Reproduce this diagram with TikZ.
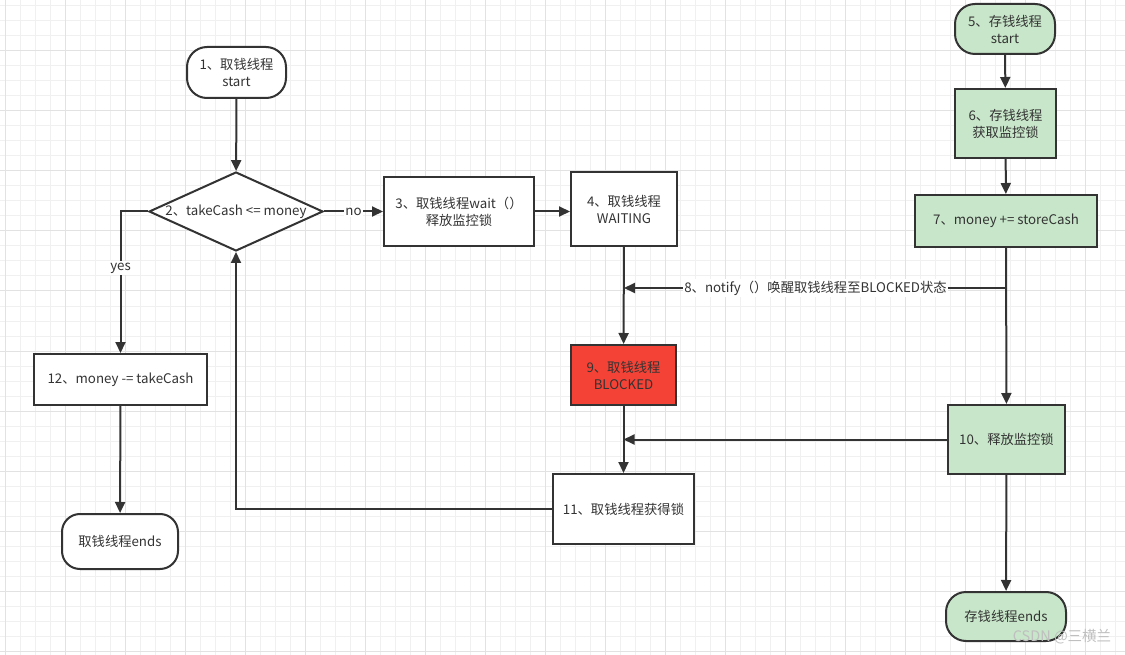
\documentclass[tikz,border=0pt]{standalone}
\usepackage{fontspec}
\setmainfont{Noto Sans CJK SC}
\usetikzlibrary{shapes.geometric,arrows.meta}

\definecolor{ink}{HTML}{333333}
\definecolor{leaf}{HTML}{C8E6C9}
\definecolor{alarm}{HTML}{F44336}
\definecolor{gridminor}{HTML}{F0F0F0}
\definecolor{gridmajor}{HTML}{E2E2E2}

\tikzset{
  box/.style={draw=ink,line width=2pt,text=ink,align=center,inner sep=0pt,
    font=\fontsize{13.3}{17}\selectfont},
  term/.style={box,rounded corners=20pt},
  lbl/.style={fill=white,text=ink,inner sep=1.5pt,font=\fontsize{13.3}{17}\selectfont},
  flow/.style={draw=ink,line width=2pt,-{Triangle[length=11pt,width=10pt]}},
}

\begin{document}
\begin{tikzpicture}[x=1pt,y=-1pt]

      \useasboundingbox[fill=white] (0,0) rectangle (1125,655);

      % background grid
      \foreach \x in {5,20,...,1125} \draw[gridminor,line width=1pt] (\x,0) -- (\x,655);
      \foreach \y in {6,21,...,655} \draw[gridminor,line width=1pt] (0,\y) -- (1125,\y);
      \foreach \x in {5,65,...,1125} \draw[gridmajor,line width=1pt] (\x,0) -- (\x,655);
      \foreach \y in {51,111,...,655} \draw[gridmajor,line width=1pt] (0,\y) -- (1125,\y);

      % take-cash thread
      \begin{scope}[every node/.style={box,fill=white}]
        \node[term,minimum width=99pt,minimum height=51pt] (1) at (236.5,72.5) {1、取钱线程\\start};
        \node[shape=diamond,minimum width=174pt,minimum height=79pt] (2) at (236,211.5) {};
        \node[minimum width=150pt,minimum height=69pt] (3) at (459,211.5) {3、取钱线程wait（）\\释放监控锁};
        \node[minimum width=106pt,minimum height=74pt] (4) at (624,209) {4、取钱线程\\WAITING};
        \node[minimum width=105pt,minimum height=60pt,fill=alarm] (9) at (623.5,375) {9、取钱线程\\BLOCKED};
        \node[minimum width=141pt,minimum height=70pt] (11) at (623.5,509) {11、取钱线程获得锁};
        \node[minimum width=173pt,minimum height=51pt] (12) at (120.5,379.5) {12、money -= takeCash};
        \node[term,rounded corners=18pt,minimum width=116pt,minimum height=55pt] (e1) at (120,541.5) {取钱线程ends};
      \end{scope}
      \node[text=ink,font=\fontsize{13.3}{17}\selectfont] (t2) at (2) {2、takeCash <= money};

      % store-cash thread
      \begin{scope}[every node/.style={box,fill=leaf}]
        \node[term,minimum width=100pt,minimum height=50pt] (5) at (1005,29) {5、存钱线程\\start};
        \node[minimum width=101pt,minimum height=69pt] (6) at (1005.5,123.5) {6、存钱线程\\获取监控锁};
        \node[minimum width=182pt,minimum height=52pt] (7) at (1006,221) {7、money += storeCash};
        \node[minimum width=117pt,minimum height=69pt] (10) at (1006.5,439.5) {10、释放监控锁};
        \node[term,minimum width=120pt,minimum height=49pt] (e2) at (1006,616.5) {存钱线程ends};
      \end{scope}

      \coordinate (n8) at (1007,288);

      \begin{scope}[every node/.style={lbl}]

        \begin{scope}[every edge/.style={flow}]
          \path (1) edge (2);
          \path (2.east) edge node {no} (3.west);
          \path (3.east) edge (3.east -| 4.west);
          \path (12) edge (e1);
          \path (4) edge (9);
          \path (9) edge (11);
          \path (5) edge (6);
          \path (6) edge (7);
          \path (7) edge (10);
          \path (10) edge (e2);
          \path (n8) edge node {8、notify（）唤醒取钱线程至BLOCKED状态} (n8 -| 4);
          \path (10.west) edge (10.west -| 9);
        \end{scope}

        \draw[flow] (2.west) -| node[pos=0.7] {yes} (12.north);
        \draw[flow] (11.west) -| (2.south);

      \end{scope}

      \node[text=gray!50,font=\fontsize{14.5}{17}\selectfont] (wm) at (1062,637) {CSDN @三横兰};

\end{tikzpicture}
\end{document}
